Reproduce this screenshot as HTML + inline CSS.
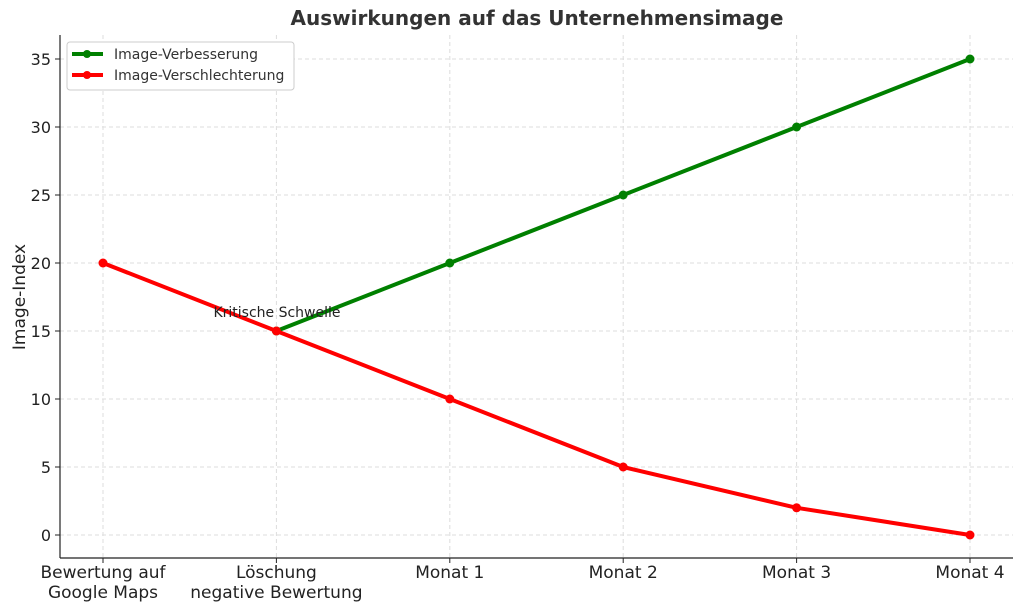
<!DOCTYPE html>
<html><head><meta charset="utf-8"><style>
body{margin:0;background:#fff;font-family:"Liberation Sans","DejaVu Sans",sans-serif}
</style></head><body>
<svg id="chart" width="1024" height="611" xmlns="http://www.w3.org/2000/svg" font-family="'DejaVu Sans','Liberation Sans',sans-serif">
<text x="537" y="25" text-anchor="middle" font-size="20" font-weight="bold" fill="#333">Auswirkungen auf das Unternehmensimage</text>
<g id="grid"></g>
<g id="axes"></g>
<g id="series"></g>
<text x="0" y="0" transform="translate(25,297) rotate(-90)" text-anchor="middle" font-size="17" fill="#222">Image-Index</text>
<text x="277" y="317" text-anchor="middle" font-size="14" fill="#222">Kritische Schwelle</text>
<g>
<rect x="67" y="42" width="227" height="48" rx="3" fill="#fff" stroke="#ccc"/>
<g>
<line x1="72" y1="54" x2="103" y2="54" stroke="#008000" stroke-width="4"/><circle cx="87" cy="54" r="4" fill="#008000"/>
<text x="114" y="59" font-size="14" fill="#333">Image-Verbesserung</text></g>
<g>
<line x1="72" y1="75" x2="103" y2="75" stroke="#ff0000" stroke-width="4"/><circle cx="87" cy="75" r="4" fill="#ff0000"/>
<text x="114" y="80" font-size="14" fill="#333">Image-Verschlechterung</text></g>
</g>
</svg>
<script>
const categories=[["Bewertung auf","Google Maps"],["Löschung","negative Bewertung"],["Monat 1"],["Monat 2"],["Monat 3"],["Monat 4"]];
const verbesserung=[null,15,20,25,30,35];
const verschlechterung=[20,15,10,5,2,0];
const yTicks=[0,5,10,15,20,25,30,35];
const NS="http://www.w3.org/2000/svg";
const x=i=>103+i*173.4;
const y=v=>535-v*13.6;
function mk(t,a,p){const e=document.createElementNS(NS,t);for(const k in a)e.setAttribute(k,a[k]);p.appendChild(e);return e;}
const grid=document.getElementById('grid'),axes=document.getElementById('axes'),series=document.getElementById('series');
yTicks.forEach(v=>{
const l=mk('line',{x1:60,x2:1013,y1:y(v),y2:y(v),stroke:'#ddd','stroke-dasharray':'4,3'},grid);


mk('line',{x1:55,x2:60,y1:y(v),y2:y(v),stroke:'#222'},axes);
const t=mk('text',{x:51,y:y(v)+6,'text-anchor':'end','font-size':16,fill:'#222'},axes);
t.textContent=v;


});
categories.forEach((c,i)=>{
const l=mk('line',{x1:x(i),x2:x(i),y1:35,y2:558,stroke:'#ddd','stroke-dasharray':'4,3'},grid);


mk('line',{x1:x(i),x2:x(i),y1:558,y2:563,stroke:'#222'},axes);
c.forEach((s,j)=>{const t=mk('text',{x:x(i),y:578+j*20,'text-anchor':'middle','font-size':17,fill:'#222'},axes);
t.textContent=s;

});
});
mk('line',{x1:60,x2:60,y1:35,y2:558,stroke:'#222','stroke-width':1.2},axes);
mk('line',{x1:60,x2:1013,y1:558,y2:558,stroke:'#222','stroke-width':1.2},axes);
function draw(data,color,name){
const pts=data.map((v,i)=>v==null?null:[x(i),y(v)]).filter(p=>p);
const p=mk('polyline',{points:pts.map(q=>q.join(',')).join(' '),fill:'none',stroke:color,'stroke-width':4,'stroke-linejoin':'round'},series);


pts.forEach(q=>{const c=mk('circle',{cx:q[0],cy:q[1],r:4.5,fill:color},series);

});
}
draw(verbesserung,'#008000','verbesserung');
draw(verschlechterung,'#ff0000','verschlechterung');
</script>
</body></html>
